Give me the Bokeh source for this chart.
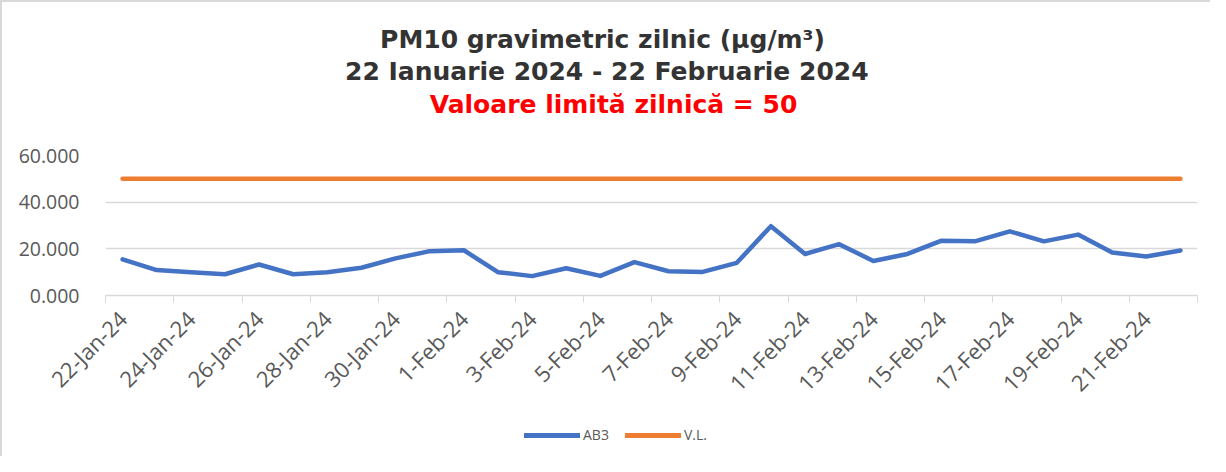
import math
from bokeh.plotting import figure
from bokeh.layouts import column
from bokeh.models import (Range1d, FixedTicker, NumeralTickFormatter,
                          Legend, LegendItem, ColumnDataSource)
from bokeh.core.properties import value
from bokeh.embed import file_html
from bokeh.resources import INLINE

dates = ["22-Jan-24", "23-Jan-24", "24-Jan-24", "25-Jan-24", "26-Jan-24",
         "27-Jan-24", "28-Jan-24", "29-Jan-24", "30-Jan-24", "31-Jan-24",
         "1-Feb-24", "2-Feb-24", "3-Feb-24", "4-Feb-24", "5-Feb-24",
         "6-Feb-24", "7-Feb-24", "8-Feb-24", "9-Feb-24", "10-Feb-24",
         "11-Feb-24", "12-Feb-24", "13-Feb-24", "14-Feb-24", "15-Feb-24",
         "16-Feb-24", "17-Feb-24", "18-Feb-24", "19-Feb-24", "20-Feb-24",
         "21-Feb-24", "22-Feb-24"]
ab3 = [15.5, 10.9, 10.0, 9.1, 13.3, 9.1, 10.0, 11.9, 15.9, 19.0,
       19.4, 10.0, 8.3, 11.7, 8.4, 14.3, 10.4, 10.1, 14.0, 29.7,
       17.8, 22.0, 14.8, 17.8, 23.5, 23.3, 27.5, 23.2, 26.1, 18.4,
       16.7, 19.3]
vl = [50] * len(dates)
y_ticks = [0, 20, 40, 60]
series_names = ["AB3", "V.L."]

title_lines = ["PM10 gravimetric zilnic (µg/m³)",
               "22 Ianuarie 2024  - 22 Februarie  2024",
               "Valoare limită zilnică = 50"]
title_colors = ["#333333", "#333333", "#ff0000"]

idx = list(range(len(dates)))
src = ColumnDataSource(dict(x=idx, ab3=ab3, vl=vl))

TFONT = "DejaVu Sans"
FONT = "Open Sans"
GREY = "#595959"
GRID = "#d9d9d9"
BLUE = "#4472C4"
ORANGE = "#ED7D31"
W = 1208
LEFT = 103
RIGHT = 13

# ---------------- header with the three title lines ----------------
# (frames of the column are aligned, so the header frame spans LEFT..W-RIGHT)
head = figure(width=W, height=141, output_backend="svg", toolbar_location=None,
              x_range=Range1d(LEFT, W - RIGHT), y_range=Range1d(141, 0),
              min_border_left=LEFT, min_border_right=RIGHT, min_border_top=0,
              min_border_bottom=0, x_axis_type=None, y_axis_type=None)
head.outline_line_color = None
head.xgrid.visible = False
head.ygrid.visible = False
head.text(x=[600, 613, 611], y=[37, 69, 102], text=title_lines,
          text_color=title_colors, text_font=value(TFONT), text_font_style="bold",
          text_font_size="25px", text_align="center", text_baseline="middle")

# ---------------- main chart ----------------
p = figure(width=W, height=274, output_backend="svg", toolbar_location=None,
           x_range=Range1d(-0.5, len(dates) - 0.5), y_range=Range1d(0, 60),
           min_border_left=LEFT, min_border_right=RIGHT, min_border_bottom=122,
           min_border_top=12)
p.outline_line_color = None

r1 = p.line("x", "ab3", source=src, line_color=BLUE, line_width=4.5,
            line_join="round", line_cap="round")
r2 = p.line("x", "vl", source=src, line_color=ORANGE, line_width=4.5,
            line_join="round", line_cap="round")

xa = p.xaxis[0]
xa.ticker = FixedTicker(ticks=[i for i in idx if i % 2 == 0],
                        minor_ticks=[i - 0.5 for i in idx if i % 2 == 0] + [len(dates) - 0.5])
xa.major_label_overrides = {i: d for i, d in enumerate(dates)}
xa.major_label_orientation = math.pi / 4
xa.major_tick_out = 0
xa.major_tick_in = 0
xa.minor_tick_out = 7
xa.minor_tick_in = 0
xa.minor_tick_line_color = GRID
xa.axis_line_color = GRID
xa.axis_line_width = 1.5
xa.major_label_text_font = FONT
xa.major_label_text_font_size = "22px"
xa.major_label_text_color = GREY
xa.major_label_standoff = 12

ya = p.yaxis[0]
ya.ticker = FixedTicker(ticks=y_ticks)
ya.formatter = NumeralTickFormatter(format="0.000")
ya.axis_line_color = None
ya.major_tick_line_color = None
ya.minor_tick_line_color = None
ya.major_label_text_font = FONT
ya.major_label_text_font_size = "19.5px"
ya.major_label_text_color = GREY
ya.major_label_standoff = 20

p.xgrid.grid_line_color = None
p.ygrid.grid_line_color = GRID
p.ygrid.grid_line_width = 1.5

# ---------------- footer with the legend ----------------
foot = figure(width=W, height=39, output_backend="svg", toolbar_location=None,
              x_range=Range1d(-0.5, len(dates) - 0.5), y_range=Range1d(-20, -10),
              min_border_left=LEFT, min_border_right=RIGHT, min_border_top=0,
              min_border_bottom=0, x_axis_type=None, y_axis_type=None)
foot.outline_line_color = None
foot.xgrid.visible = False
foot.ygrid.visible = False
f1 = foot.line("x", "ab3", source=src, line_color=BLUE, line_width=5, line_cap="round")
f2 = foot.line("x", "vl", source=src, line_color=ORANGE, line_width=5, line_cap="round")
legend = Legend(items=[LegendItem(label=series_names[0], renderers=[f1]),
                       LegendItem(label=series_names[1], renderers=[f2])],
                orientation="horizontal", location=(522 - LEFT, 12),
                label_text_font=FONT, label_text_font_size="14px",
                label_text_color=GREY, glyph_width=56, glyph_height=12,
                label_height=14, label_standoff=3, spacing=16, padding=0, margin=0,
                border_line_color=None, background_fill_alpha=0)
foot.add_layout(legend, "center")

layout = column(head, p, foot, spacing=0)
layout.styles = {"border-top": "2px solid #d9d9d9", "border-left": "2px solid #d9d9d9"}

open("out.html", "w").write(file_html(layout, INLINE))
